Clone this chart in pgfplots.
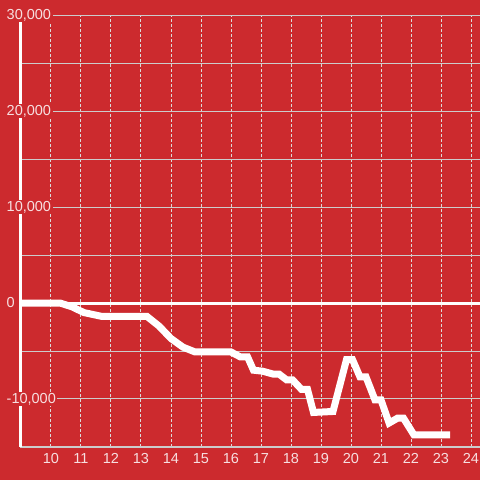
\documentclass[border=0pt]{standalone}
\usepackage{fontspec}
\setmainfont{Liberation Sans}
\usepackage{pgfplots}
\pgfplotsset{compat=1.18}

\definecolor{bgred}{RGB}{204,42,46}
\definecolor{gridgray}{RGB}{204,204,204}
\colorlet{labelcol}{white!85!bgred}

\begin{document}
\begin{tikzpicture}
\begin{axis}[
    set layers,
    at={(20pt,33pt)}, anchor=south west,
    scale only axis,
    width=460pt, height=432pt,
    xmin=8.9667, xmax=24.3,
    ymin=-15000, ymax=30000,
    axis x line*=bottom, axis y line*=left,
    axis line style={-},
    x axis line style={draw=gridgray, line width=1.5pt},
    y axis line style={draw=white, line width=3pt},
    major tick length=0pt, minor tick length=0pt,
    scaled y ticks=false,
    xtick={10,...,24},
    xticklabels={10,11,12,13,14,15,16,17,18,19,20,21,22,23,24},
    ytick={-10000,0,10000,20000,30000},
    yticklabels={{-10,000},{0},{10,000},{20,000},{30,000}},
    minor y tick num=1,
    xmajorgrids, ymajorgrids, yminorgrids,
    x grid style={draw=gridgray!70!white, line width=1pt, dash pattern=on 3pt off 2pt},
    y grid style={draw=gridgray, line width=1pt},
    minor y grid style={draw=gridgray, line width=1pt},
    tick label style={font=\fontsize{14.5}{16}\selectfont, text=labelcol},
    yticklabel style={anchor=west, xshift=-15pt, fill=bgred, inner sep=1.5pt},
    xticklabel style={yshift=-3pt},
]
\begin{pgfonlayer}{axis background}
\fill[bgred] ([xshift=-20pt,yshift=-33pt]rel axis cs:0,0) rectangle ([yshift=16pt]rel axis cs:1,1);
\end{pgfonlayer}
\addplot[draw=white, line width=3pt] coordinates {(8.9667,0) (24.3,0)};
\addplot[draw=white, line width=7pt] coordinates {
(8.9667,0) (10.3,0) (10.7,-400) (11.1,-1000) (11.7,-1400) (13.2,-1400)
(13.6,-2400) (14.0,-3700) (14.4,-4600) (14.8,-5100) (16.0,-5100)
(16.3,-5600) (16.55,-5600) (16.75,-7000) (17.05,-7100) (17.4,-7400) (17.6,-7400)
(17.85,-8000) (18.05,-8000) (18.35,-9000) (18.55,-9000) (18.75,-11400) (19.4,-11300)
(19.85,-5900) (20.05,-5900) (20.3,-7700) (20.5,-7700) (20.8,-10100) (21.0,-10100)
(21.27,-12500) (21.55,-12000) (21.75,-12000) (22.1,-13750) (23.3,-13750)
};
\end{axis}
\pgfresetboundingbox
\path (0,0) rectangle (480pt,480pt);
\end{tikzpicture}
\end{document}
